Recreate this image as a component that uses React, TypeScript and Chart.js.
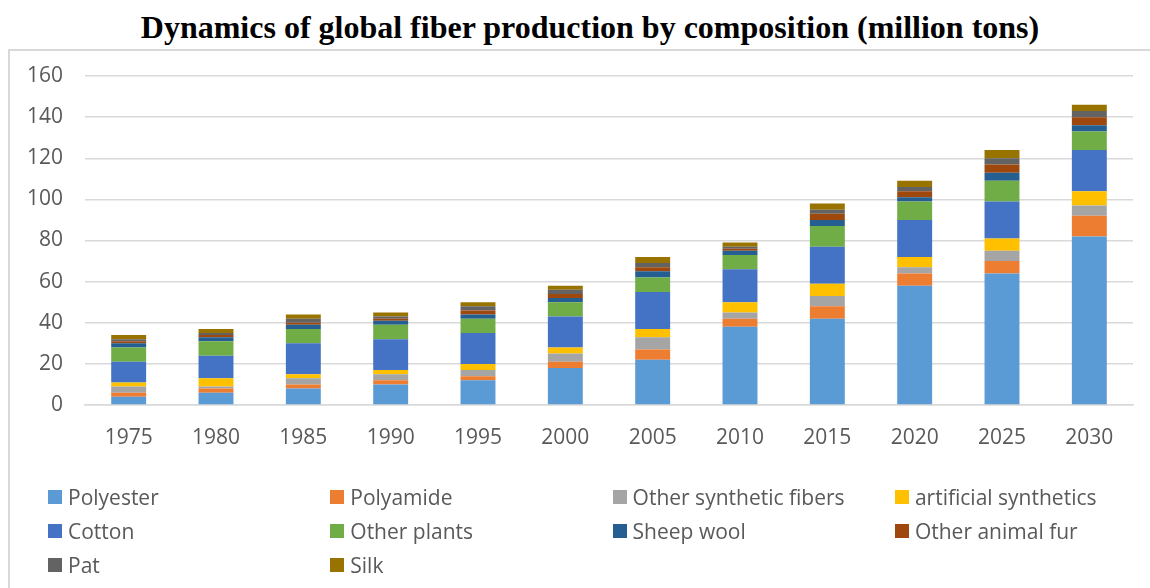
import { useEffect, useRef } from 'react';
import { Chart, registerables } from 'chart.js';

Chart.register(...registerables);

// Years on the category axis
const years = ['1975', '1980', '1985', '1990', '1995', '2000', '2005', '2010', '2015', '2020', '2025', '2030'];

// Production by fiber type, million tons
const polyester = [4, 6, 8, 10, 12, 18, 22, 38, 42, 58, 64, 82];
const polyamide = [2, 2, 2, 2, 2, 3, 5, 4, 6, 6, 6, 10];
const otherSynthetic = [3, 1, 3, 3, 3, 4, 6, 3, 5, 3, 5, 5];
const artificialSynthetics = [2, 4, 2, 2, 3, 3, 4, 5, 6, 5, 6, 7];
const cotton = [10, 11, 15, 15, 15, 15, 18, 16, 18, 18, 18, 20];
const otherPlants = [7, 7, 7, 7, 7, 7, 7, 7, 10, 9, 10, 9];
const sheepWool = [2, 2, 2, 2, 2, 2, 3, 2, 3, 2, 4, 3];
const otherAnimalFur = [1, 1, 1, 1, 2, 2, 2, 1, 3, 3, 4, 4];
const pat = [1, 1, 2, 1, 2, 2, 2, 1, 2, 2, 3, 3];
const silk = [2, 2, 2, 2, 2, 2, 3, 2, 3, 3, 4, 3];

// Y axis range
const yMin = 0;
const yMax = 160;
const yStep = 20;

const seriesNames = [
  'Polyester',
  'Polyamide',
  'Other synthetic fibers',
  'artificial synthetics',
  'Cotton',
  'Other plants',
  'Sheep wool',
  'Other animal fur',
  'Pat',
  'Silk',
];
const seriesValues = [
  polyester,
  polyamide,
  otherSynthetic,
  artificialSynthetics,
  cotton,
  otherPlants,
  sheepWool,
  otherAnimalFur,
  pat,
  silk,
];
const seriesColors = [
  '#5B9BD5',
  '#ED7D31',
  '#A5A5A5',
  '#FFC000',
  '#4472C4',
  '#70AD47',
  '#255E91',
  '#9E480E',
  '#636363',
  '#997300',
];

const TEXT_GRAY = '#595959';
const GRID_GRAY = '#D9D9D9';
const SANS = '"Open Sans", "Noto Sans", sans-serif';

export default function App() {
  const canvasRef = useRef<HTMLCanvasElement>(null);

  useEffect(() => {
    const canvas = canvasRef.current;
    if (!canvas) return;
    const chart = new Chart(canvas, {
      type: 'bar',
      data: {
        labels: years,
        datasets: seriesNames.map((name, i) => ({
          label: name,
          data: seriesValues[i],
          backgroundColor: seriesColors[i],
          borderWidth: 0,
          categoryPercentage: 1,
          barPercentage: 0.4,
        })),
      },
      options: {
        responsive: false,
        animation: false,
        devicePixelRatio: 1,
        layout: { padding: { left: 10, right: 17, top: 76, bottom: 123 } },
        plugins: {
          legend: { display: false },
          title: { display: false },
          tooltip: { enabled: false },
        },
        scales: {
          x: {
            stacked: true,
            grid: { display: false, drawTicks: false },
            border: { display: true, color: GRID_GRAY, width: 1.5 },
            ticks: {
              color: TEXT_GRAY,
              font: { family: SANS, size: 21 },
              padding: 20,
              maxRotation: 0,
              autoSkip: false,
            },
            afterFit: (scale: any) => {
              scale.height = 60;
            },
          },
          y: {
            stacked: true,
            min: yMin,
            max: yMax,
            grid: { color: GRID_GRAY, lineWidth: 1.5, drawTicks: false },
            border: { display: false },
            ticks: {
              stepSize: yStep,
              color: TEXT_GRAY,
              font: { family: SANS, size: 21 },
              padding: 22,
            },
            afterFit: (scale: any) => {
              scale.width = 75;
            },
          },
        },
      },
    });
    return () => chart.destroy();
  }, []);

  return (
    <div
      style={{
        position: 'fixed',
        left: 0,
        top: 0,
        width: 1150,
        height: 588,
        background: '#fff',
        overflow: 'hidden',
      }}
    >
      <div
        style={{
          position: 'absolute',
          left: 8,
          top: 49,
          width: 1200,
          height: 600,
          borderLeft: `2px solid ${GRID_GRAY}`,
          borderTop: `2px solid ${GRID_GRAY}`,
          boxSizing: 'border-box',
        }}
      />
      <div
        style={{
          position: 'absolute',
          left: 0,
          top: 11,
          width: 1180,
          textAlign: 'center',
          fontFamily: '"Liberation Serif", "Times New Roman", serif',
          fontWeight: 'bold',
          fontSize: 32,
          lineHeight: '32px',
          color: '#000',
          whiteSpace: 'nowrap',
        }}
      >
        Dynamics of global fiber production by composition (million tons)
      </div>
      <canvas
        ref={canvasRef}
        width={1150}
        height={588}
        style={{ position: 'absolute', left: 0, top: 0, width: 1150, height: 588 }}
      />
      {seriesNames.map((name, i) => {
        const col = i % 4;
        const row = Math.floor(i / 4);
        return (
          <div
            key={name}
            style={{
              position: 'absolute',
              left: 48 + col * 282.3,
              top: 497 + row * 34 - 14,
              height: 28,
              display: 'flex',
              alignItems: 'center',
              whiteSpace: 'nowrap',
              fontFamily: SANS,
              fontSize: 21,
              color: TEXT_GRAY,
            }}
          >
            <span
              style={{
                display: 'inline-block',
                width: 14,
                height: 14,
                background: seriesColors[i],
                marginRight: 6,
              }}
            />
            <span>{name}</span>
          </div>
        );
      })}
    </div>
  );
}
